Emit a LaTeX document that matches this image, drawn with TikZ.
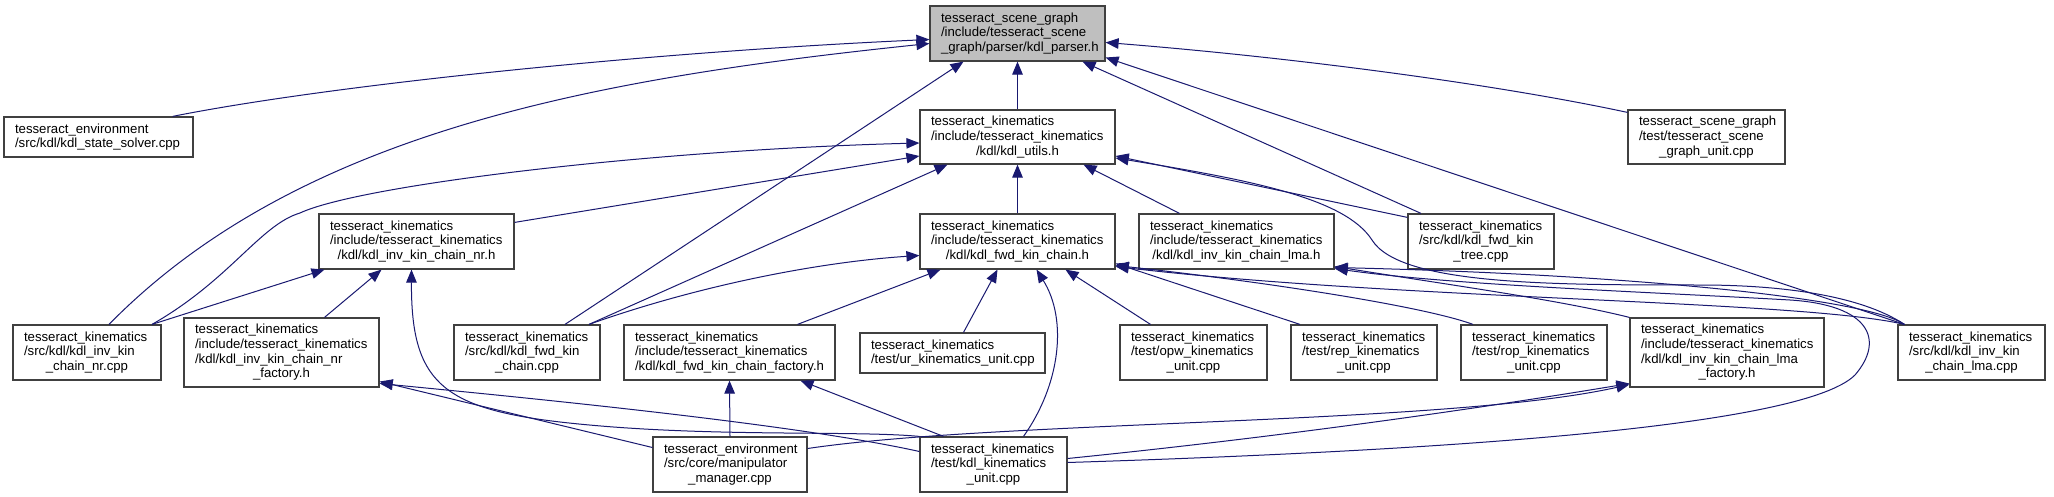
\documentclass[tikz,border=0pt]{standalone}
\usepackage{fontspec}
\setmainfont{Liberation Sans}
\usetikzlibrary{arrows.meta}
\definecolor{edgeblue}{RGB}{25,25,112}
\definecolor{rootgray}{RGB}{191,191,191}
\definecolor{boxline}{RGB}{64,64,64}
\newcommand{\lft}[1]{\makebox[\linewidth][l]{#1}}
\tikzset{
  filebox/.style={draw=boxline,line width=1.2pt,fill=white,rectangle,inner sep=0pt,
                  align=center,font=\fontsize{13.2}{14.7}\selectfont},
  rootbox/.style={filebox,fill=rootgray},
  fsize/.style 2 args={minimum width=#1pt,minimum height=#2pt,text width=#1pt-22pt},
  dep/.style={draw=edgeblue,line width=1pt,-{Triangle[length=13pt,width=10.5pt]}}
}
\begin{document}
\begin{tikzpicture}[x=1pt,y=-1pt]
  \fill[white] (0,0) rectangle (2054,497);
  \useasboundingbox (0,0) rectangle (2054,497);
  % top rows
  \node[rootbox,fsize={175}{55}] (root) at (1017.5,33.5)
    {\lft{tesseract\_scene\_graph}\\\lft{/include/tesseract\_scene}\\\_graph/parser/kdl\_parser.h};
  \node[filebox,fsize={189}{40}] (env) at (98.5,137)
    {\lft{tesseract\_environment}\\\lft{/src/kdl/kdl\_state\_solver.cpp}};
  \node[filebox,fsize={195}{54}] (utils) at (1017.5,137)
    {\lft{tesseract\_kinematics}\\\lft{/include/tesseract\_kinematics}\\/kdl/kdl\_utils.h};
  \node[filebox,fsize={157}{54}] (sgunit) at (1706.5,137)
    {\lft{tesseract\_scene\_graph}\\\lft{/test/tesseract\_scene}\\\_graph\_unit.cpp};
  \node[filebox,fsize={195}{55}] (invnrh) at (416.5,241.5)
    {\lft{tesseract\_kinematics}\\\lft{/include/tesseract\_kinematics}\\/kdl/kdl\_inv\_kin\_chain\_nr.h};
  \node[filebox,fsize={195}{55}] (fwdh) at (1017.5,241.5)
    {\lft{tesseract\_kinematics}\\\lft{/include/tesseract\_kinematics}\\/kdl/kdl\_fwd\_kin\_chain.h};
  \node[filebox,fsize={195}{55}] (invlmah) at (1236.5,241.5)
    {\lft{tesseract\_kinematics}\\\lft{/include/tesseract\_kinematics}\\/kdl/kdl\_inv\_kin\_chain\_lma.h};
  \node[filebox,fsize={146}{55}] (fwdtree) at (1481,241.5)
    {\lft{tesseract\_kinematics}\\\lft{/src/kdl/kdl\_fwd\_kin}\\\_tree.cpp};
  % third row
  \node[filebox,fsize={148}{55}] (invnrcpp) at (87,352.5)
    {\lft{tesseract\_kinematics}\\\lft{/src/kdl/kdl\_inv\_kin}\\\_chain\_nr.cpp};
  \node[filebox,fsize={195}{69}] (nrfac) at (281.5,352.5)
    {\lft{tesseract\_kinematics}\\\lft{/include/tesseract\_kinematics}\\\lft{/kdl/kdl\_inv\_kin\_chain\_nr}\\\_factory.h};
  \node[filebox,fsize={146}{55}] (fwdcpp) at (527,352.5)
    {\lft{tesseract\_kinematics}\\\lft{/src/kdl/kdl\_fwd\_kin}\\\_chain.cpp};
  \node[filebox,fsize={211}{55}] (fwdfac) at (729.5,352.5)
    {\lft{tesseract\_kinematics}\\\lft{/include/tesseract\_kinematics}\\/kdl/kdl\_fwd\_kin\_chain\_factory.h};
  \node[filebox,fsize={185}{40}] (urunit) at (952.5,353)
    {\lft{tesseract\_kinematics}\\\lft{/test/ur\_kinematics\_unit.cpp}};
  \node[filebox,fsize={147}{55}] (opwunit) at (1193.5,352.5)
    {\lft{tesseract\_kinematics}\\\lft{/test/opw\_kinematics}\\\_unit.cpp};
  \node[filebox,fsize={146}{55}] (repunit) at (1364,352.5)
    {\lft{tesseract\_kinematics}\\\lft{/test/rep\_kinematics}\\\_unit.cpp};
  \node[filebox,fsize={146}{55}] (ropunit) at (1534,352.5)
    {\lft{tesseract\_kinematics}\\\lft{/test/rop\_kinematics}\\\_unit.cpp};
  \node[filebox,fsize={194}{69}] (lmafac) at (1727,352.5)
    {\lft{tesseract\_kinematics}\\\lft{/include/tesseract\_kinematics}\\\lft{/kdl/kdl\_inv\_kin\_chain\_lma}\\\_factory.h};
  \node[filebox,fsize={147}{55}] (lmacpp) at (1971.5,352.5)
    {\lft{tesseract\_kinematics}\\\lft{/src/kdl/kdl\_inv\_kin}\\\_chain\_lma.cpp};
  % bottom row
  \node[filebox,fsize={154}{55}] (manip) at (730,464.5)
    {\lft{tesseract\_environment}\\\lft{/src/core/manipulator}\\\_manager.cpp};
  \node[filebox,fsize={147}{55}] (kinunit) at (993.5,464.5)
    {\lft{tesseract\_kinematics}\\\lft{/test/kdl\_kinematics}\\\_unit.cpp};
  % includes of kdl_parser.h
  \draw[dep] ([xshift=-21pt]env.north east) .. controls (330,85) and (650,52) .. ([yshift=-6pt]root.west);
  \draw[dep] ([xshift=22pt]invnrcpp.north) .. controls (300,130) and (600,78) .. ([yshift=-10pt]root.west);
  \draw[dep] (utils.north) -- (root.south);
  \draw[dep] ([xshift=38pt]fwdcpp.north) -- ([xshift=-54pt]root.south);
  \draw[dep] ([xshift=-60pt]fwdtree.north) -- ([xshift=65pt]root.south);
  \draw[dep] ([xshift=7pt]lmacpp.north west) -- ([yshift=-24pt]root.east);
  \draw[dep] ([yshift=-3pt]sgunit.north west) .. controls (1500,85) and (1300,58) .. ([yshift=-9pt]root.east);
  % includes of kdl_utils.h
  \draw[dep] ([xshift=65pt]invnrcpp.north) .. controls (230,280) and (260,225) .. (300,213)
    .. controls (360,185) and (650,150) .. ([yshift=-6pt]utils.west);
  \draw[dep] ([yshift=-9pt]invnrh.north east) -- ([yshift=-19pt]utils.west);
  \draw[dep] ([xshift=62pt]fwdcpp.north) -- ([xshift=-70pt]utils.south);
  \draw[dep] (fwdh.north) -- (utils.south);
  \draw[dep] ([xshift=-57pt]invlmah.north) -- ([xshift=66pt]utils.south);
  \draw[dep] ([yshift=-4pt]fwdtree.north west) -- ([yshift=-19pt]utils.east);
  \draw[dep] ([xshift=7pt]lmacpp.north west) .. controls (1860,295) and (1780,285) .. (1700,285)
    .. controls (1550,285) and (1400,285) .. (1372,240)
    .. controls (1345,198) and (1250,180) .. ([yshift=-21pt]utils.east);
  % includes of the chain headers
  \draw[dep] ([xshift=65pt]invnrcpp.north) -- ([xshift=-92pt]invnrh.south);
  \draw[dep] ([xshift=43pt]nrfac.north) -- ([xshift=-35pt]invnrh.south);
  \draw[dep] (kinunit.north west) .. controls (850,430) and (700,438) .. (560,422)
    .. controls (440,408) and (411,380) .. ([xshift=-5pt]invnrh.south);
  \draw[dep] ([xshift=62pt]fwdcpp.north) .. controls (700,285) and (820,262) .. ([yshift=-14pt]fwdh.west);
  \draw[dep] ([xshift=68pt]fwdfac.north) -- ([xshift=-77pt]fwdh.south);
  \draw[dep] ([xshift=11pt]urunit.north) -- ([xshift=-20pt]fwdh.south);
  \draw[dep] ([xshift=30pt]kinunit.north) .. controls (1060,385) and (1068,320) .. ([xshift=19pt]fwdh.south);
  \draw[dep] ([xshift=-43pt]opwunit.north) -- ([xshift=48pt]fwdh.south);
  \draw[dep] ([xshift=-64pt]repunit.north) -- ([yshift=-22pt]fwdh.east);
  \draw[dep] ([xshift=-61pt]ropunit.north) .. controls (1420,305) and (1250,280) .. ([yshift=-24pt]fwdh.east);
  \draw[dep] ([xshift=7pt]lmacpp.north west) .. controls (1800,300) and (1400,300) .. ([yshift=-25pt]fwdh.east);
  \draw[dep] ([xshift=7pt]lmacpp.north west) .. controls (1870,300) and (1650,275) .. ([yshift=-26pt]invlmah.east);
  \draw[dep] (lmafac.north west) .. controls (1560,300) and (1450,285) .. ([yshift=-25pt]invlmah.east);
  \draw[dep] ([yshift=2pt]kinunit.east) .. controls (1400,452) and (1800,430) .. (1855,375)
    .. controls (1885,340) and (1870,305) .. (1790,300)
    .. controls (1650,292) and (1450,285) .. ([yshift=-27pt]invlmah.east);
  % includes of the factories
  \draw[dep] ([yshift=17pt]manip.west) -- ([yshift=-29pt]nrfac.east);
  \draw[dep] ([yshift=13pt]kinunit.west) .. controls (800,425) and (550,400) .. ([yshift=-31pt]nrfac.east);
  \draw[dep] (manip.north) -- (fwdfac.south);
  \draw[dep] ([xshift=-50pt]kinunit.north) -- ([xshift=71pt]fwdfac.south);
  \draw[dep] ([yshift=16pt]manip.east) .. controls (1000,420) and (1450,425) .. ([yshift=-32pt]lmafac.west);
  \draw[dep] ([yshift=6pt]kinunit.east) .. controls (1300,435) and (1500,405) .. ([yshift=-31pt]lmafac.west);
\end{tikzpicture}
\end{document}
